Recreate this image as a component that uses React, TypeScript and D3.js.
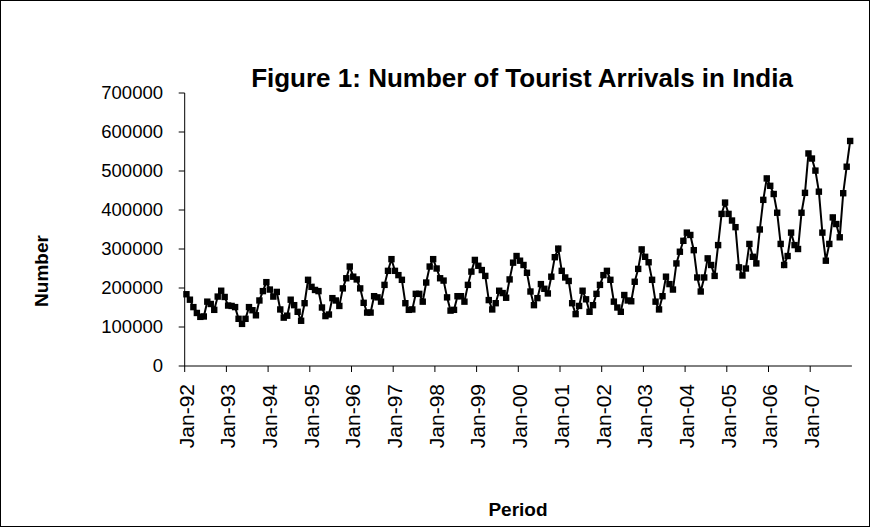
import React from "react";
import * as d3 from "d3";

const years = ["92","93","94","95","96","97","98","99","00","01","02","03","04","05","06","07"];
const months = ["Jan","Feb","Mar","Apr","May","Jun","Jul","Aug","Sep","Oct","Nov","Dec"];

// Monthly tourist arrivals (thousands), Jan..Dec per year
const y1992 = [184, 170, 151, 136, 126, 127, 165, 159, 144, 178, 193, 177];
const y1993 = [155, 154, 151, 121, 108, 121, 151, 143, 130, 168, 192, 215];
const y1994 = [196, 178, 190, 145, 124, 129, 170, 156, 139, 116, 161, 221];
const y1995 = [203, 195, 192, 150, 128, 132, 174, 168, 154, 199, 225, 255];
const y1996 = [229, 222, 199, 162, 137, 137, 179, 176, 165, 208, 244, 274];
const y1997 = [244, 233, 221, 161, 144, 145, 185, 185, 165, 214, 255, 274];
const y1998 = [250, 225, 219, 176, 142, 144, 179, 179, 165, 208, 242, 272];
const y1999 = [257, 246, 231, 169, 145, 161, 193, 187, 175, 222, 265, 282];
const y2000 = [270, 259, 239, 191, 156, 174, 210, 198, 186, 229, 279, 301];
const y2001 = [244, 227, 218, 161, 133, 154, 193, 171, 139, 156, 185, 208];
const y2002 = [233, 244, 221, 165, 150, 139, 182, 168, 166, 216, 249, 299];
const y2003 = [280, 266, 221, 165, 145, 179, 229, 210, 196, 263, 293, 321];
const y2004 = [342, 336, 297, 227, 191, 227, 276, 259, 231, 310, 390, 419];
const y2005 = [390, 373, 356, 253, 232, 250, 313, 280, 263, 350, 426, 481];
const y2006 = [462, 441, 393, 313, 259, 282, 342, 310, 300, 393, 444, 545];
const y2007 = [532, 501, 447, 342, 270, 313, 381, 364, 330, 443, 511, 577];

const yearly = [y1992, y1993, y1994, y1995, y1996, y1997, y1998, y1999, y2000, y2001, y2002, y2003, y2004, y2005, y2006, y2007];

const yTicks = [0, 100000, 200000, 300000, 400000, 500000, 600000, 700000];

type Pt = { label: string; value: number; jan: boolean };
const data: Pt[] = [];
yearly.forEach((arr, yi) => {
  arr.forEach((v, mi) => {
    data.push({ label: `${months[mi]}-${years[yi]}`, value: v * 1000, jan: mi === 0 });
  });
});

const W = 870;
const H = 527;
const FONT = "'Liberation Sans', Arial, Helvetica, sans-serif";

export default function App() {
  const x = d3
    .scaleBand<number>()
    .domain(data.map((_, i) => i))
    .range([184.7, 851.9])
    .padding(0);
  const y = d3.scaleLinear().domain([0, 700000]).range([366, 93]);
  const bw = x.bandwidth();
  const cx = (i: number) => (x(i) as number) + bw / 2;

  const line = d3
    .line<Pt>()
    .x((_, i) => cx(i))
    .y((d) => y(d.value));

  const x0 = 184.7;
  const x1 = 851.9;
  const y0 = y(0);

  return (
    <svg
      width={W}
      height={H}
      style={{ position: "absolute", left: 0, top: 0, background: "#fff" }}
      fontFamily={FONT}
    >
      <rect x={0.5} y={0.5} width={W - 1} height={H - 1} fill="#fff" stroke="#000" strokeWidth={1} />
      <text x={522} y={87} textAnchor="middle" fontSize={26} fontWeight="bold" fill="#000">
        Figure 1: Number of Tourist Arrivals in India
      </text>

      {/* Y axis */}
      <line x1={x0} x2={x0} y1={y(700000)} y2={y0} stroke="#000" strokeWidth={1} />
      {yTicks.map((t) => (
        <g key={t}>
          <line x1={x0 - 6} x2={x0} y1={y(t)} y2={y(t)} stroke="#000" strokeWidth={1} />
          <text x={163} y={y(t)} dy="0.35em" textAnchor="end" fontSize={18.5} fill="#000">
            {t}
          </text>
        </g>
      ))}

      {/* X axis */}
      <line x1={x0} x2={x1} y1={y0} y2={y0} stroke="#000" strokeWidth={1} />
      {data.map((d, i) =>
        d.jan ? (
          <g key={i}>
            <line x1={x(i) as number} x2={x(i) as number} y1={y0} y2={y0 + 6} stroke="#000" strokeWidth={1} />
            <text
              transform={`translate(${(x(i) as number) + 1.5},${384}) rotate(-90)`}
              dy="0.35em"
              textAnchor="end"
              fontSize={21}
              fill="#000"
            >
              {d.label}
            </text>
          </g>
        ) : null
      )}

      {/* Series */}
      <path d={line(data) || ""} fill="none" stroke="#000" strokeWidth={2} />
      {data.map((d, i) => (
        <rect key={i} x={cx(i) - 3.2} y={y(d.value) - 3.2} width={6.4} height={6.4} fill="#000" />
      ))}

      <text
        transform={`translate(48,271) rotate(-90)`}
        textAnchor="middle"
        fontSize={19}
        fontWeight="bold"
        fill="#000"
      >
        Number
      </text>
      <text x={518} y={516} textAnchor="middle" fontSize={19} fontWeight="bold" fill="#000">
        Period
      </text>
    </svg>
  );
}
